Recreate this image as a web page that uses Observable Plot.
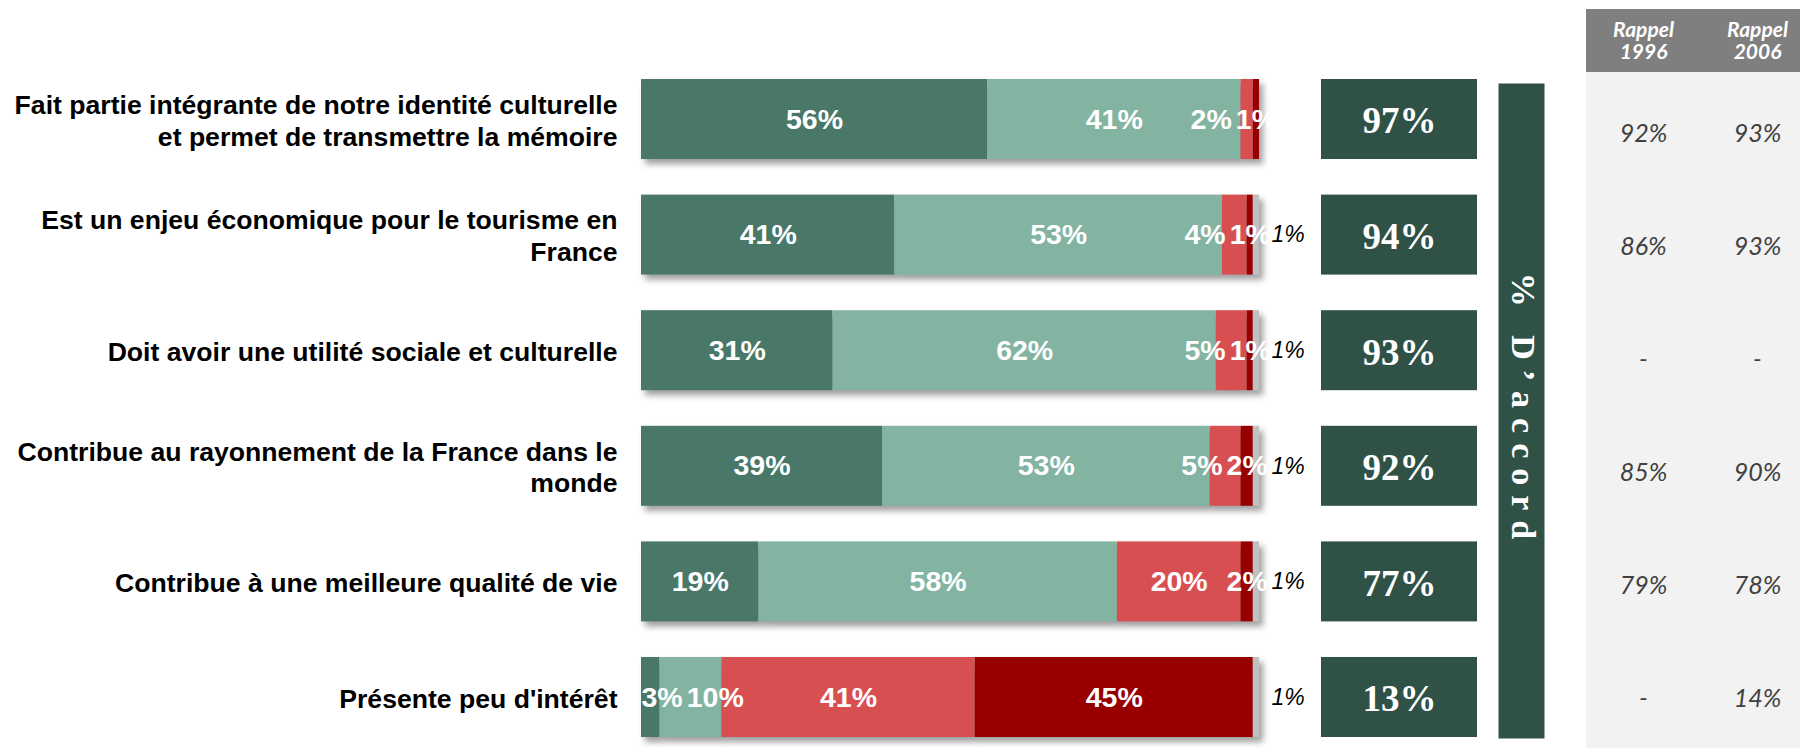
<!DOCTYPE html>
<html><head><meta charset="utf-8">
<script src="https://cdn.jsdelivr.net/npm/d3@7"></script>
<script src="https://cdn.jsdelivr.net/npm/@observablehq/plot@0.6"></script>
<style>
html,body{margin:0;padding:0;background:#fff;}
#chart{position:relative;width:1800px;height:748px;overflow:hidden;}
#chart svg{position:absolute;max-width:none;}
#chart svg g[aria-label="bar"]{filter:drop-shadow(4px 5px 3px rgba(0,0,0,0.38));}
</style></head>
<body><div id="chart"></div>
<script>
// ---------- DATA ----------
const items = [
  "Fait partie intégrante de notre identité culturelle\net permet de transmettre la mémoire",
  "Est un enjeu économique pour le tourisme en\nFrance",
  "Doit avoir une utilité sociale et culturelle",
  "Contribue au rayonnement de la France dans le\nmonde",
  "Contribue à une meilleure qualité de vie",
  "Présente peu d'intérêt"
];
const seriesNames = ["Tout à fait d'accord", "Plutôt d'accord", "Plutôt pas d'accord", "Pas du tout d'accord", "Ne se prononce pas"];
const toutAFait = [56, 41, 31, 39, 19, 3];
const plutot    = [41, 53, 62, 53, 58, 10];
const plutotPas = [2, 4, 5, 5, 20, 41];
const pasDuTout = [1, 1, 1, 2, 2, 45];
const nsp       = [0, 1, 1, 1, 1, 1];
const totalAccord = [97, 94, 93, 92, 77, 13];
const rappelColumns = ["Rappel\n1996", "Rappel\n2006"];
const rappel1996 = ["92%", "86%", "-", "85%", "79%", "-"];
const rappel2006 = ["93%", "93%", "-", "90%", "78%", "14%"];
const accordLabel = "% D\u2019accord";

// ---------- STYLE ----------
const seriesColors = ["#497868", "#82b4a1", "#d84f52", "#980000", "#c0c0c0"];
const boxColor = "#2f5146";
const sans = "'Liberation Sans', Arial, sans-serif";
const serif = "'Liberation Serif', 'DejaVu Serif', serif";
const calib = "Lato, 'Open Sans', sans-serif";

const chart = document.getElementById("chart");
function place(el, left, top) { el.style.left = left + "px"; el.style.top = top + "px"; chart.appendChild(el); return el; }

// ---------- BARS ----------
const series = [toutAFait, plutot, plutotPas, pasDuTout, nsp];
const segments = [];
items.forEach((item, i) => series.forEach((s, k) => { if (s[i] > 0) segments.push({item, serie: seriesNames[k], value: s[i]}); }));

const A = {width: 1310, height: 748, ml: 641, mr: 51, mt: 79, mb: 11};
const pxPerUnit = (A.width - A.ml - A.mr) / 100;
const segFont = 28.5;
const ctx = document.createElement("canvas").getContext("2d");
ctx.font = `bold ${segFont}px 'Liberation Sans'`;
const gap = 4;
const segLabels = [];
items.forEach((item, i) => {
  let start = 0;
  const labs = [];
  for (let k = 0; k < 4; k++) {
    const v = series[k][i];
    const text = v + "%";
    labs.push({item, text, c: (start + v / 2) * pxPerUnit, w: ctx.measureText(text).width});
    start += v;
  }
  for (let k = labs.length - 2; k >= 0; k--) {
    const maxRight = labs[k + 1].c - labs[k + 1].w / 2 - gap;
    if (labs[k].c + labs[k].w / 2 > maxRight) labs[k].c = maxRight - labs[k].w / 2;
  }
  for (let k = 0; k < labs.length; k++) {
    const minLeft = k === 0 ? 0 : labs[k - 1].c + labs[k - 1].w / 2 + gap;
    if (labs[k].c - labs[k].w / 2 < minLeft) labs[k].c = minLeft + labs[k].w / 2;
  }
  labs.forEach(l => segLabels.push({item: l.item, text: l.text, x: l.c / pxPerUnit}));
});
const nspLabels = items.map((item, i) => ({item, value: nsp[i], end: series.reduce((a, s) => a + s[i], 0)})).filter(d => d.value > 0);

const yOpts = {domain: items, axis: null, paddingInner: 0.308, paddingOuter: 0, round: false};

const plotA = Plot.plot({
  width: A.width, height: A.height,
  marginLeft: A.ml, marginRight: A.mr, marginTop: A.mt, marginBottom: A.mb,
  x: {domain: [0, 100], axis: null},
  y: yOpts,
  color: {domain: seriesNames, range: seriesColors},
  style: {background: "transparent", overflow: "visible"},
  marks: [
    Plot.barX(segments, {x: "value", y: "item", fill: "serie", order: seriesNames}),
    Plot.text(segLabels, {x: "x", y: "item", text: "text", fill: "white", fontWeight: "bold", fontSize: segFont, fontFamily: sans}),
    Plot.text(nspLabels, {x: "end", y: "item", text: d => d.value + "%", dx: 12, textAnchor: "start", fill: "#000", fontStyle: "italic", fontSize: 23, fontFamily: sans}),
    Plot.text(items, {y: d => d, text: d => d, frameAnchor: "left", textAnchor: "end", dx: -24, fontWeight: "bold", fontSize: 26.6, lineHeight: 1.2, fill: "#000", fontFamily: sans})
  ]
});
place(plotA, 0, 0);

// ---------- % D'ACCORD BOXES ----------
const boxData = items.map((item, i) => ({item, total: totalAccord[i]}));
const plotB = Plot.plot({
  width: 156, height: 748,
  marginLeft: 0, marginRight: 0, marginTop: A.mt, marginBottom: A.mb,
  y: yOpts,
  style: {background: "transparent", overflow: "visible"},
  marks: [
    Plot.cell(boxData, {y: "item", fill: boxColor, inset: 0}),
    Plot.text(boxData, {y: "item", text: d => d.total + "%", frameAnchor: "middle", dy: 2, fill: "white", fontWeight: "bold", fontSize: 37, fontFamily: serif})
  ]
});
place(plotB, 1321, 0);

// ---------- VERTICAL BANNER ----------
const plotC = Plot.plot({
  width: 46, height: 655, margin: 0,
  style: {background: "transparent", overflow: "visible"},
  marks: [
    Plot.frame({fill: boxColor, stroke: "none"}),
    Plot.text([accordLabel], {text: d => d, frameAnchor: "middle", rotate: 90, dx: 1, fill: "white", fontWeight: "bold", fontSize: 34, fontFamily: serif})
  ]
});
plotC.querySelectorAll("text").forEach(t => t.style.letterSpacing = "10px");
place(plotC, 1498, 83);

// ---------- RAPPEL TABLE ----------
const xTab = {domain: rappelColumns, type: "point", padding: 0, axis: null};
const plotD = Plot.plot({
  width: 214, height: 63,
  marginLeft: 57, marginRight: 43, marginTop: 0, marginBottom: 0,
  x: xTab,
  style: {background: "#7f7f7f", overflow: "visible"},
  marks: [
    Plot.text(rappelColumns, {x: d => d, text: d => d, frameAnchor: "middle", fill: "white", fontWeight: "bold", fontStyle: "italic", fontSize: 21, lineHeight: 1.05, fontFamily: calib})
  ]
});
place(plotD, 1586, 9);

const tableCells = [];
items.forEach((item, i) => {
  tableCells.push({item, col: rappelColumns[0], v: rappel1996[i]});
  tableCells.push({item, col: rappelColumns[1], v: rappel2006[i]});
});
const plotE = Plot.plot({
  width: 214, height: 676,
  marginLeft: 57, marginRight: 43, marginTop: 61, marginBottom: 50,
  x: xTab,
  y: {domain: items, type: "point", padding: 0, axis: null},
  style: {background: "#f2f2f2", overflow: "visible"},
  marks: [
    Plot.text(tableCells, {x: "col", y: "item", text: "v", fill: "#404040", fontStyle: "italic", fontSize: 25, fontFamily: calib})
  ]
});
place(plotE, 1586, 72);
</script>
</body></html>
